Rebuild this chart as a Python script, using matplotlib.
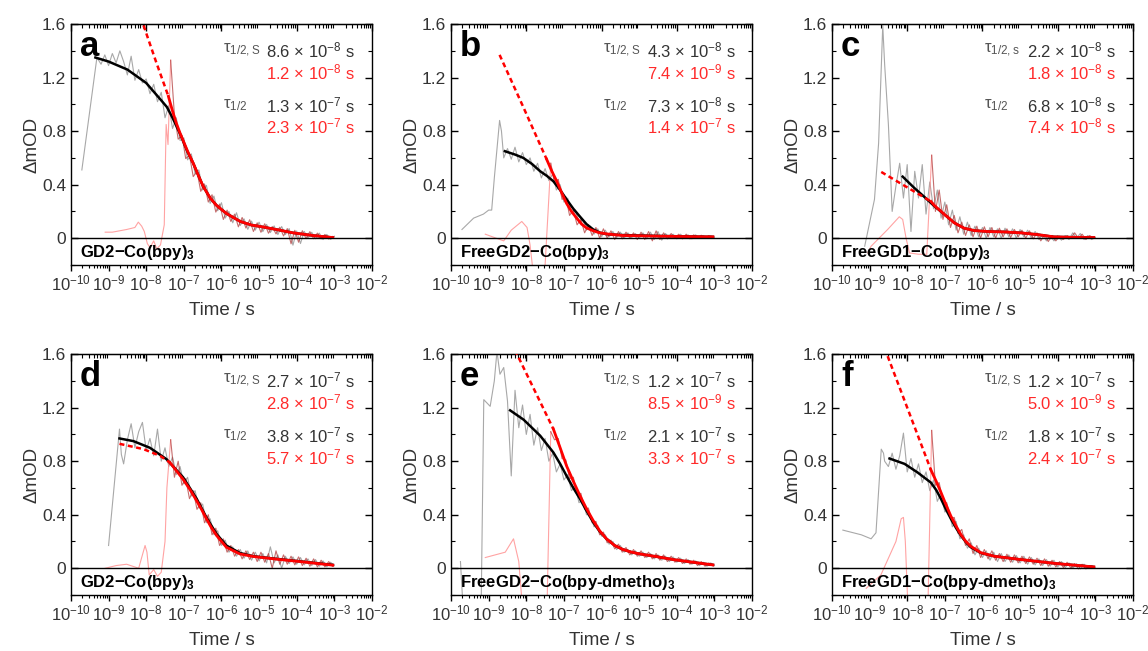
import numpy as np
import matplotlib
matplotlib.use("Agg")
import matplotlib.pyplot as plt
from matplotlib.ticker import LogLocator, MultipleLocator, NullFormatter

plt.rcParams['font.family'] = ['Liberation Sans', 'DejaVu Sans']
plt.rcParams['mathtext.fontset'] = 'custom'
plt.rcParams['mathtext.rm'] = 'Liberation Sans'
plt.rcParams['mathtext.it'] = 'Liberation Sans:italic'
plt.rcParams['mathtext.bf'] = 'Liberation Sans:bold'

# shared time bases (log10 of time / s)
LT_G = [-8.6, -8.5, -8.4, -8.3, -8.2, -8.1, -8.0, -7.9, -7.8, -7.7, -7.6, -7.5, -7.4, -7.3, -7.2,
        -7.1, -7.0, -6.9, -6.8, -6.7, -6.6, -6.5, -6.4, -6.3, -6.2, -6.1, -6.0, -5.9, -5.8, -5.7,
        -5.6, -5.5, -5.4, -5.3, -5.2, -5.1, -5.0, -4.9, -4.8, -4.7, -4.6, -4.5, -4.4, -4.3, -4.2,
        -4.1, -4.0, -3.9, -3.8, -3.7, -3.6, -3.5, -3.4, -3.3, -3.2, -3.1, -3.0]
LT_R = [-7.35, -7.25, -7.15, -7.05, -6.95, -6.85, -6.75, -6.65, -6.55, -6.45, -6.35, -6.25, -6.15,
        -6.05, -5.95, -5.85, -5.75, -5.65, -5.55, -5.45, -5.35, -5.25, -5.15, -5.05, -4.95, -4.85,
        -4.75, -4.65, -4.55, -4.45, -4.35, -4.25, -4.15, -4.05, -3.95, -3.85, -3.75, -3.65, -3.55,
        -3.45, -3.35, -3.25, -3.15, -3.05]

# ---------------- panel a ----------------
a_gray_t0 = [-9.71, -9.31, -9.2, -9.1, -9.0, -8.9, -8.8, -8.7]
a_gray_y0 = [0.51, 1.35, 1.30, 1.37, 1.29, 1.38, 1.31, 1.40]
a_gray_y = [1.32, 1.22, 1.36, 1.18, 1.26, 1.16, 1.19, 1.08, 1.15, 1.02, 1.09, 0.90, 0.99, 0.82, 0.90,
            0.73, 0.75, 0.585, 0.63, 0.48, 0.51, 0.36, 0.395, 0.26, 0.315, 0.205, 0.265, 0.15, 0.20,
            0.115, 0.19, 0.095, 0.145, 0.066, 0.128, 0.06, 0.12, 0.049, 0.103, 0.042, 0.092, 0.027,
            0.087, 0.027, 0.072, -0.052, 0.054, -0.04, 0.051, 0.002, 0.044, -0.004, 0.038, -0.01,
            0.028, -0.009, 0.015]
a_red_t0 = [-9.09, -8.9, -8.52, -8.3, -8.21, -8.12, -8.05, -7.97, -7.9, -7.8, -7.72, -7.62, -7.52, -7.47, -7.42]
a_red_y0 = [0.045, 0.045, 0.065, 0.08, 0.12, 0.09, 0.05, -0.04, -0.07, -0.02, -0.08, -0.05, 0.10, 0.85, 0.70]
a_red_y = [1.33, 0.92, 0.74, 0.77, 0.595, 0.62, 0.46, 0.50, 0.35, 0.405, 0.27, 0.325, 0.195, 0.255,
           0.14, 0.21, 0.125, 0.18, 0.085, 0.155, 0.076, 0.138, 0.05, 0.115, 0.044, 0.108, 0.037,
           0.087, 0.032, 0.082, 0.017, 0.072, -0.042, 0.059, -0.03, 0.056, -0.003, 0.049, -0.004,
           0.038, -0.005, 0.028, -0.006, 0.013]
a_black_t = [-9.35, -9.0, -8.5, -8.0, -7.6, -7.45, -7.3, -7.1, -6.9, -6.75, -6.6, -6.49, -6.3, -6.13,
             -5.87, -5.5, -5.2, -4.98, -4.54, -4.1, -3.57, -3.04]
a_black_y = [1.35, 1.32, 1.26, 1.16, 1.03, 0.98, 0.90, 0.78, 0.645, 0.56, 0.46, 0.39, 0.30, 0.245,
             0.185, 0.125, 0.098, 0.088, 0.065, 0.04, 0.02, 0.005]
a_fit_t = [-7.41, -7.3, -7.2, -7.1, -6.9, -6.75, -6.6, -6.49, -6.3, -6.13, -5.87, -5.5, -5.2, -4.98,
           -4.54, -4.1, -3.57, -3.04]
a_fit_y = [1.06, 0.95, 0.86, 0.785, 0.65, 0.56, 0.46, 0.39, 0.30, 0.245, 0.185, 0.125, 0.098, 0.088,
           0.065, 0.04, 0.02, 0.005]
a_dash_t = [-8.07, -7.74, -7.41]
a_dash_y = [1.59, 1.32, 1.06]

# ---------------- panel b ----------------
b_gray_t0 = [-9.71, -9.4, -9.14, -9.0, -8.92, -8.85, -8.71, -8.66]
b_gray_y0 = [0.065, 0.15, 0.18, 0.21, 0.21, 0.45, 0.88, 0.80]
b_gray_y = [0.60, 0.67, 0.59, 0.68, 0.57, 0.64, 0.55, 0.60, 0.50, 0.56, 0.45, 0.52, 0.43, 0.48, 0.36,
            0.40, 0.27, 0.30, 0.19, 0.21, 0.12, 0.14, 0.06, 0.09, 0.03, 0.07, 0.01, 0.06, 0.01, 0.05,
            0.005, 0.045, 0.0, 0.04, 0.005, 0.035, 0.0, 0.04, -0.005, 0.045, -0.01, 0.05, -0.015,
            0.035, 0.0, 0.03, -0.005, 0.03, 0.0, 0.025, -0.005, 0.025, 0.0, 0.02, 0.0, 0.018, 0.008]
b_red_t0 = [-9.09, -8.8, -8.6, -8.4, -8.12, -7.98, -7.9, -7.8, -7.52]
b_red_y0 = [0.03, 0.0, -0.02, 0.06, 0.125, 0.08, -0.05, -0.3, -0.3]
b_red_y = [0.56, 0.42, 0.44, 0.29, 0.31, 0.17, 0.21, 0.10, 0.14, 0.04, 0.10, 0.02, 0.08, 0.0, 0.07,
           0.0, 0.055, -0.01, 0.05, -0.005, 0.045, 0.0, 0.04, -0.01, 0.045, -0.01, 0.05, -0.02, 0.055,
           -0.01, 0.04, -0.005, 0.035, 0.0, 0.03, -0.005, 0.03, -0.005, 0.025, 0.0, 0.022, 0.0, 0.02,
           0.005]
b_black_t = [-8.57, -8.3, -8.08, -7.85, -7.63, -7.45, -7.28, -7.1, -6.93, -6.75, -6.57, -6.4, -6.22,
             -6.05, -5.87, -5.5, -4.98, -4.5, -4.1, -3.5, -3.04]
b_black_y = [0.65, 0.625, 0.60, 0.555, 0.50, 0.465, 0.425, 0.36, 0.29, 0.22, 0.16, 0.105, 0.065,
             0.042, 0.03, 0.024, 0.02, 0.017, 0.015, 0.012, 0.01]
b_fit_t = [-7.46, -7.32, -7.19, -7.06, -6.93, -6.8, -6.66, -6.53, -6.4, -6.22, -6.05, -5.8, -5.43,
           -5.0, -4.5, -4.0, -3.5, -3.04]
b_fit_y = [0.59, 0.50, 0.425, 0.34, 0.26, 0.20, 0.15, 0.105, 0.077, 0.055, 0.04, 0.03, 0.02, 0.018,
           0.015, 0.013, 0.011, 0.01]
b_dash_t = [-8.71, -8.08, -7.46]
b_dash_y = [1.37, 0.98, 0.59]

# ---------------- panel c ----------------
c_gray_t0 = [-9.13, -8.87, -8.76, -8.65]
c_gray_y0 = [-0.06, 0.29, 0.71, 1.59]
c_gray_y = [1.30, 0.85, 0.20, 0.39, 0.56, 0.30, 0.55, 0.05, 0.50, 0.30, 0.55, 0.18, 0.42, 0.22, 0.36,
            0.15, 0.27, 0.10, 0.21, 0.06, 0.16, 0.03, 0.12, 0.02, 0.09, 0.01, 0.08, 0.0, 0.08, 0.01,
            0.07, 0.0, 0.075, 0.01, 0.07, 0.0, 0.065, 0.01, 0.06, 0.0, 0.05, -0.01, 0.03, -0.02, 0.02,
            -0.02, 0.02, -0.015, 0.02, -0.01, 0.04, 0.0, 0.035, -0.01, 0.02, -0.01, 0.005]
c_red_t0 = [-9.05, -8.96, -8.52, -8.21, -8.12, -8.03, -7.94, -7.7, -7.48]
c_red_y0 = [-0.11, -0.06, 0.065, 0.16, 0.14, 0.0, -0.11, -0.12, -0.12]
c_red_y = [0.62, 0.20, 0.36, 0.14, 0.25, 0.08, 0.17, 0.04, 0.12, 0.02, 0.10, 0.01, 0.09, 0.0, 0.085,
           0.01, 0.08, 0.0, 0.075, 0.01, 0.07, 0.005, 0.065, 0.01, 0.06, 0.0, 0.055, -0.005, 0.04,
           -0.02, 0.025, -0.025, 0.02, -0.02, 0.015, -0.01, 0.02, 0.0, 0.04, 0.0, 0.03, -0.01, 0.02, 0.0]
c_black_t = [-8.12, -7.81, -7.55, -7.28, -7.02, -6.75, -6.49, -6.22, -5.87, -5.43, -4.98, -4.54, -4.1, -3.04]
c_black_y = [0.46, 0.375, 0.31, 0.24, 0.18, 0.115, 0.075, 0.057, 0.05, 0.047, 0.04, 0.027, 0.01, 0.005]
c_fit_t = [-7.37, -7.28, -7.02, -6.75, -6.49, -6.22, -5.87, -5.43, -4.98, -4.54, -4.1, -3.6, -3.04]
c_fit_y = [0.275, 0.245, 0.18, 0.115, 0.075, 0.057, 0.05, 0.047, 0.04, 0.027, 0.01, 0.006, 0.005]
c_dash_t = [-8.69, -7.37]
c_dash_y = [0.495, 0.275]

# ---------------- panel d ----------------
d_gray_t0 = [-9.0, -8.71, -8.66]
d_gray_y0 = [0.17, 1.04, 0.85]
d_gray_y = [0.78, 0.96, 1.08, 0.90, 1.02, 1.09, 0.88, 0.97, 0.84, 1.04, 0.80, 0.90, 0.76, 0.83, 0.70,
            0.76, 0.63, 0.68, 0.54, 0.58, 0.45, 0.48, 0.34, 0.37, 0.25, 0.28, 0.17, 0.21, 0.12, 0.16,
            0.09, 0.14, 0.075, 0.13, 0.06, 0.12, 0.055, 0.11, 0.04, 0.16, 0.04, 0.10, 0.0, 0.09, 0.035,
            0.085, 0.03, 0.08, 0.025, 0.07, 0.02, 0.065, 0.015, 0.055, 0.01, 0.045, 0.02]
d_red_t0 = [-9.09, -8.8, -8.52, -8.2, -8.1, -8.03, -7.98, -7.92, -7.8, -7.7, -7.6, -7.5, -7.45]
d_red_y0 = [0.0, 0.02, 0.03, 0.0, 0.10, 0.17, 0.12, -0.05, -0.01, -0.06, -0.03, 0.2, 0.6]
d_red_y = [0.96, 0.68, 0.80, 0.62, 0.67, 0.52, 0.58, 0.44, 0.49, 0.34, 0.40, 0.25, 0.30, 0.17, 0.22,
           0.12, 0.17, 0.09, 0.14, 0.07, 0.13, 0.065, 0.12, 0.05, 0.12, 0.045, 0.11, 0.0, 0.13, 0.03,
           0.10, 0.03, 0.09, 0.025, 0.085, 0.02, 0.075, 0.015, 0.07, 0.01, 0.06, 0.01, 0.05, 0.015]
d_black_t = [-8.71, -8.34, -7.9, -7.46, -7.02, -6.84, -6.66, -6.53, -6.4, -6.27, -6.13, -5.87, -5.51,
             -5.16, -4.54, -3.92, -3.04]
d_black_y = [0.97, 0.95, 0.90, 0.815, 0.68, 0.60, 0.52, 0.45, 0.38, 0.32, 0.256, 0.17, 0.114, 0.09,
             0.07, 0.052, 0.025]
d_fit_t = [-7.37, -7.2, -7.02, -6.84, -6.66, -6.53, -6.4, -6.27, -6.13, -5.87, -5.51, -5.16, -4.54,
           -3.92, -3.04]
d_fit_y = [0.79, 0.73, 0.665, 0.59, 0.505, 0.44, 0.37, 0.305, 0.245, 0.157, 0.107, 0.088, 0.068,
           0.05, 0.023]
d_dash_t = [-8.71, -8.07, -7.63, -7.37]
d_dash_y = [0.93, 0.89, 0.84, 0.79]

# ---------------- panel e ----------------
e_gray_t0 = [-9.75, -9.68, -9.2, -9.13, -8.96, -8.85, -8.78, -8.7]
e_gray_y0 = [0.05, -0.3, -0.3, 1.26, 1.21, 1.40, 1.62, 1.45]
e_gray_y = [1.50, 1.25, 0.69, 1.33, 1.05, 1.22, 1.00, 1.15, 0.92, 1.05, 0.88, 0.97, 0.80, 0.86, 0.72,
            0.78, 0.66, 0.70, 0.58, 0.61, 0.49, 0.51, 0.40, 0.40, 0.31, 0.32, 0.24, 0.25, 0.18, 0.20,
            0.14, 0.17, 0.12, 0.14, 0.10, 0.13, 0.09, 0.12, 0.08, 0.11, 0.07, 0.10, 0.06, 0.09, 0.05,
            0.085, 0.045, 0.075, 0.035, 0.065, 0.03, 0.055, 0.02, 0.045, 0.015, 0.04, 0.02]
e_red_t0 = [-9.09, -8.56, -8.34, -8.2, -8.1, -7.8, -7.45]
e_red_y0 = [0.08, 0.12, 0.22, 0.05, -0.3, -0.3, -0.3]
e_red_y = [1.02, 0.96, 0.97, 0.82, 0.81, 0.67, 0.68, 0.55, 0.56, 0.44, 0.45, 0.34, 0.35, 0.25, 0.27,
           0.19, 0.21, 0.145, 0.18, 0.12, 0.155, 0.10, 0.14, 0.09, 0.13, 0.08, 0.12, 0.07, 0.11, 0.06,
           0.10, 0.05, 0.09, 0.045, 0.08, 0.035, 0.07, 0.03, 0.06, 0.02, 0.05, 0.015, 0.04, 0.02]
e_black_t = [-8.43, -8.07, -7.63, -7.28, -7.1, -6.93, -6.75, -6.57, -6.4, -6.22, -6.05, -5.87, -5.65,
             -5.43, -5.2, -4.98, -4.5, -4.1, -3.5, -3.04]
e_black_y = [1.18, 1.11, 0.99, 0.865, 0.78, 0.69, 0.60, 0.517, 0.43, 0.343, 0.275, 0.22, 0.17, 0.14,
             0.12, 0.107, 0.085, 0.065, 0.042, 0.025]
e_fit_t = [-7.28, -7.1, -6.93, -6.75, -6.57, -6.4, -6.22, -6.05, -5.87, -5.65, -5.43, -5.2, -4.98,
           -4.5, -4.1, -3.5, -3.04]
e_fit_y = [1.04, 0.90, 0.765, 0.65, 0.54, 0.445, 0.355, 0.28, 0.22, 0.17, 0.14, 0.12, 0.107, 0.085,
           0.065, 0.042, 0.025]
e_dash_t = [-8.3, -7.28]
e_dash_y = [1.63, 1.04]

# ---------------- panel f ----------------
f_gray_t0 = [-9.71, -9.22, -8.96, -8.83, -8.69, -8.63]
f_gray_y0 = [0.285, 0.25, 0.22, 0.265, 0.89, 0.86]
f_gray_y = [0.80, 0.76, 0.86, 0.74, 0.84, 1.01, 0.72, 0.82, 0.68, 0.78, 0.64, 0.72, 0.58, 0.66, 0.50,
            0.56, 0.42, 0.44, 0.31, 0.35, 0.22, 0.25, 0.15, 0.19, 0.10, 0.15, 0.08, 0.13, 0.06, 0.12,
            0.05, 0.11, 0.05, 0.10, 0.045, 0.095, 0.04, 0.09, 0.03, 0.08, 0.025, 0.07, 0.02, 0.065,
            0.015, 0.06, 0.01, 0.05, 0.005, 0.04, 0.0, 0.035, -0.005, 0.03, 0.0, 0.02, 0.005]
f_red_t0 = [-9.09, -8.7, -8.3, -8.16, -8.1, -8.05, -7.98, -7.7, -7.45]
f_red_y0 = [-0.15, -0.05, 0.2, 0.37, 0.38, 0.2, -0.3, -0.3, -0.3]
f_red_y = [1.03, 0.62, 0.64, 0.50, 0.49, 0.37, 0.38, 0.26, 0.29, 0.17, 0.22, 0.11, 0.17, 0.08, 0.14,
           0.07, 0.13, 0.06, 0.11, 0.05, 0.105, 0.045, 0.10, 0.04, 0.09, 0.035, 0.085, 0.03, 0.075,
           0.02, 0.07, 0.015, 0.06, 0.01, 0.05, 0.005, 0.045, 0.0, 0.035, -0.005, 0.03, -0.005, 0.02,
           0.005]
f_black_t = [-8.47, -8.07, -7.72, -7.37, -7.23, -7.1, -6.97, -6.84, -6.7, -6.57, -6.44, -6.31, -6.04,
             -5.69, -4.98, -4.1, -3.04]
f_black_y = [0.82, 0.78, 0.715, 0.64, 0.585, 0.517, 0.44, 0.37, 0.30, 0.243, 0.195, 0.157, 0.114,
             0.09, 0.065, 0.037, 0.01]
f_fit_t = [-7.37, -7.23, -7.1, -6.97, -6.84, -6.7, -6.57, -6.44, -6.31, -6.04, -5.69, -4.98, -4.1, -3.04]
f_fit_y = [0.735, 0.65, 0.565, 0.475, 0.39, 0.315, 0.25, 0.20, 0.164, 0.116, 0.09, 0.065, 0.037, 0.01]
f_dash_t = [-8.52, -7.37]
f_dash_y = [1.585, 0.735]

# labels
letters = ['a', 'b', 'c', 'd', 'e', 'f']
compounds = ['GD2\u2212Co(bpy)', 'FreeGD2\u2212Co(bpy)', 'FreeGD1\u2212Co(bpy)',
             'GD2\u2212Co(bpy)', 'FreeGD2\u2212Co(bpy-dmetho)', 'FreeGD1\u2212Co(bpy-dmetho)']
tau_s_black = [('8.6', '-8'), ('4.3', '-8'), ('2.2', '-8'), ('2.7', '-7'), ('1.2', '-7'), ('1.2', '-7')]
tau_s_red = [('1.2', '-8'), ('7.4', '-9'), ('1.8', '-8'), ('2.8', '-7'), ('8.5', '-9'), ('5.0', '-9')]
tau_black = [('1.3', '-7'), ('7.3', '-8'), ('6.8', '-8'), ('3.8', '-7'), ('2.1', '-7'), ('1.8', '-7')]
tau_red = [('2.3', '-7'), ('1.4', '-7'), ('7.4', '-8'), ('5.7', '-7'), ('3.3', '-7'), ('2.4', '-7')]
s_sub = ['S', 'S', 's', 'S', 'S', 'S']

panels = [
    (a_gray_t0, a_gray_y0, a_gray_y, a_red_t0, a_red_y0, a_red_y, a_black_t, a_black_y, a_fit_t, a_fit_y, a_dash_t, a_dash_y),
    (b_gray_t0, b_gray_y0, b_gray_y, b_red_t0, b_red_y0, b_red_y, b_black_t, b_black_y, b_fit_t, b_fit_y, b_dash_t, b_dash_y),
    (c_gray_t0, c_gray_y0, c_gray_y, c_red_t0, c_red_y0, c_red_y, c_black_t, c_black_y, c_fit_t, c_fit_y, c_dash_t, c_dash_y),
    (d_gray_t0, d_gray_y0, d_gray_y, d_red_t0, d_red_y0, d_red_y, d_black_t, d_black_y, d_fit_t, d_fit_y, d_dash_t, d_dash_y),
    (e_gray_t0, e_gray_y0, e_gray_y, e_red_t0, e_red_y0, e_red_y, e_black_t, e_black_y, e_fit_t, e_fit_y, e_dash_t, e_dash_y),
    (f_gray_t0, f_gray_y0, f_gray_y, f_red_t0, f_red_y0, f_red_y, f_black_t, f_black_y, f_fit_t, f_fit_y, f_dash_t, f_dash_y),
]

DARK = '#333333'
RED = '#ff2a2a'

fig = plt.figure(figsize=(11.48, 6.51), dpi=100)
lefts = [0.0618, 0.3929, 0.7247]
bottoms = [0.593, 0.086]

for i, p in enumerate(panels):
    gt0, gy0, gy, rt0, ry0, ry, bt, by, ft, fy, dt, dy = p
    ax = fig.add_axes([lefts[i % 3], bottoms[i // 3], 0.2622, 0.370])

    ax.plot(10.0 ** np.array(gt0 + LT_G), gy0 + gy, color='#a8a8a8', lw=0.8, zorder=2)
    ax.plot(10.0 ** np.array(rt0 + [LT_R[0]]), ry0 + [ry[0]], color='#ff8c8c', lw=0.8, alpha=0.8, zorder=2)
    ax.plot(10.0 ** np.array(LT_R), ry, color='#b23c3c', lw=0.8, alpha=0.75, zorder=3)
    ax.plot(10.0 ** np.array(bt), by, color='black', lw=1.8, zorder=4)
    ax.plot(10.0 ** np.array(ft), fy, color='#ff0000', lw=2.0, zorder=5)
    ax.plot(10.0 ** np.array(dt), dy, color='#ff0000', lw=1.8, ls=(0, (2, 1.4)), zorder=5)
    ax.axhline(0, color='black', lw=1.0, zorder=6)

    ax.set_xscale('log')
    ax.set_xlim(1e-10, 1e-2)
    ax.set_ylim(-0.2, 1.6)
    ax.xaxis.set_major_locator(LogLocator(base=10, numticks=12))
    ax.xaxis.set_minor_locator(LogLocator(base=10, subs=np.arange(2, 10), numticks=12))
    ax.xaxis.set_minor_formatter(NullFormatter())
    ax.set_yticks([0, 0.4, 0.8, 1.2, 1.6])
    ax.set_yticklabels(['0', '0.4', '0.8', '1.2', '1.6'])
    ax.yaxis.set_minor_locator(MultipleLocator(0.2))
    ax.tick_params(axis='x', which='major', direction='out', length=4, width=1, labelsize=12,
                   labelcolor=DARK, pad=2)
    ax.tick_params(axis='x', which='minor', direction='out', length=2.5, width=0.8)
    ax.tick_params(axis='y', which='both', direction='in', right=True, labelsize=12.5, labelcolor=DARK)
    ax.tick_params(axis='y', which='major', length=5, width=1)
    ax.tick_params(axis='y', which='minor', length=3, width=0.8)
    top = ax.secondary_xaxis('top')
    top.tick_params(axis='x', which='major', direction='in', length=5, width=1, labeltop=False)
    top.tick_params(axis='x', which='minor', direction='in', length=3, width=0.8)
    top.xaxis.set_minor_locator(LogLocator(base=10, subs=np.arange(2, 10), numticks=12))
    top.xaxis.set_minor_formatter(NullFormatter())
    for sp in ax.spines.values():
        sp.set_linewidth(1.0)

    ax.set_xlabel('Time / s', fontsize=13.5, color=DARK, labelpad=6)
    ax.set_ylabel('\u0394mOD', fontsize=13.5, color=DARK, labelpad=1)

    ax.text(0.03, 0.975, letters[i], transform=ax.transAxes, fontsize=25, fontweight='bold',
            ha='left', va='top', zorder=7)
    ax.text(0.03, 0.052, compounds[i] + r'$_\mathbf{3}$', transform=ax.transAxes, fontsize=12,
            fontweight='bold', ha='left', va='center', zorder=7)

    ax.text(0.505, 0.892, '\u03c4$_{1/2,\\mathrm{' + s_sub[i] + '}}$', transform=ax.transAxes,
            fontsize=12, color='#555555', ha='left', va='center')
    ax.text(0.505, 0.664, '\u03c4$_{1/2}$', transform=ax.transAxes,
            fontsize=12, color='#555555', ha='left', va='center')
    rows = [(tau_s_black[i], DARK, 0.892), (tau_s_red[i], RED, 0.801),
            (tau_black[i], DARK, 0.664), (tau_red[i], RED, 0.573)]
    for (mant, ex), col, yy in rows:
        ax.text(0.944, yy, mant + ' \u00d7 10$^{' + ex.replace('-', '\u2212') + '}$ s',
                transform=ax.transAxes, fontsize=12, color=col, ha='right', va='center')

fig.savefig('out.png', dpi=100, facecolor='white')
